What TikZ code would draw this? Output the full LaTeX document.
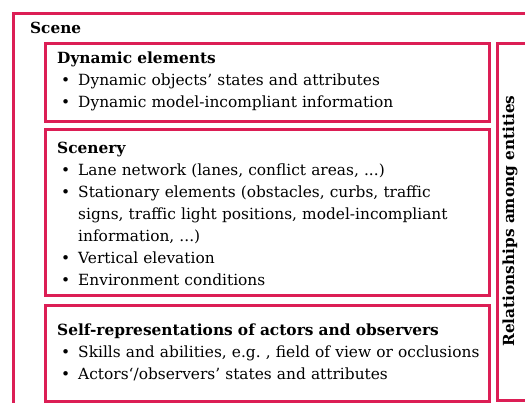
\documentclass[tikz,border=0pt]{standalone}
\usepackage{fontspec}
\setmainfont{DejaVu Serif}
\usepackage{xcolor}
\usepackage{tikz}
\usetikzlibrary{positioning}

\definecolor{scenered}{RGB}{220,30,85}
\newcommand{\bitem}[1]{\makebox[21pt][l]{\hspace*{4pt}\textbullet}#1}
\newcommand{\bgoon}[1]{\hspace*{21pt}#1}

\begin{document}
\begin{tikzpicture}[x=1pt, y=-1pt,
  box/.style={draw=scenered, line width=2.6pt, anchor=north west, inner sep=0pt},
  boxtext/.style={anchor=base west, inner sep=0pt, text width=470pt, align=left,
    font=\fontsize{15.4}{22}\selectfont},
  title/.style={anchor=base west, inner sep=0pt, font=\fontsize{15.3}{22}\selectfont\bfseries}]

\useasboundingbox (0,0) rectangle (525,403);
\clip (0,0) rectangle (525,403);

% frames
\node [box, minimum width=560pt, minimum height=430pt] (scene) at (12,12) {};
\node [box, minimum width=444pt, minimum height=78pt] (dynamic) at (44,42) {};
\node [box, minimum width=444pt, minimum height=166pt] (scenery) at (44,128) {};
\node [box, minimum width=444pt, minimum height=96pt] (selfrep) at (44,304) {};
\node [box, minimum width=60pt, minimum height=357pt] (relations) at (496,42) {};

% labels
\node [title] (scene-title) at (30,34) {Scene};

\node [boxtext] (dynamic-text) at (57,64) {\textbf{Dynamic elements}\\
  \bitem{Dynamic objects’ states and attributes}\\
  \bitem{Dynamic model-incompliant information}};

\node [boxtext] (scenery-text) at (57,154) {\textbf{Scenery}\\
  \bitem{Lane network (lanes, conflict areas, ...)}\\
  \bitem{Stationary elements (obstacles, curbs, traffic}\\
  \bgoon{signs, traffic light positions, model-incompliant}\\
  \bgoon{information, ...)}\\
  \bitem{Vertical elevation}\\
  \bitem{Environment conditions}};

\node [boxtext] (selfrep-text) at (57,336) {\textbf{Self-representations of actors and observers}\\
  \bitem{Skills and abilities, e.g.\ , field of view or occlusions}\\
  \bitem{Actors‘/observers’ states and attributes}};

\node [title, anchor=center, rotate=90] (relations-title) at (510,221) {Relationships among entities};

\end{tikzpicture}
\end{document}
